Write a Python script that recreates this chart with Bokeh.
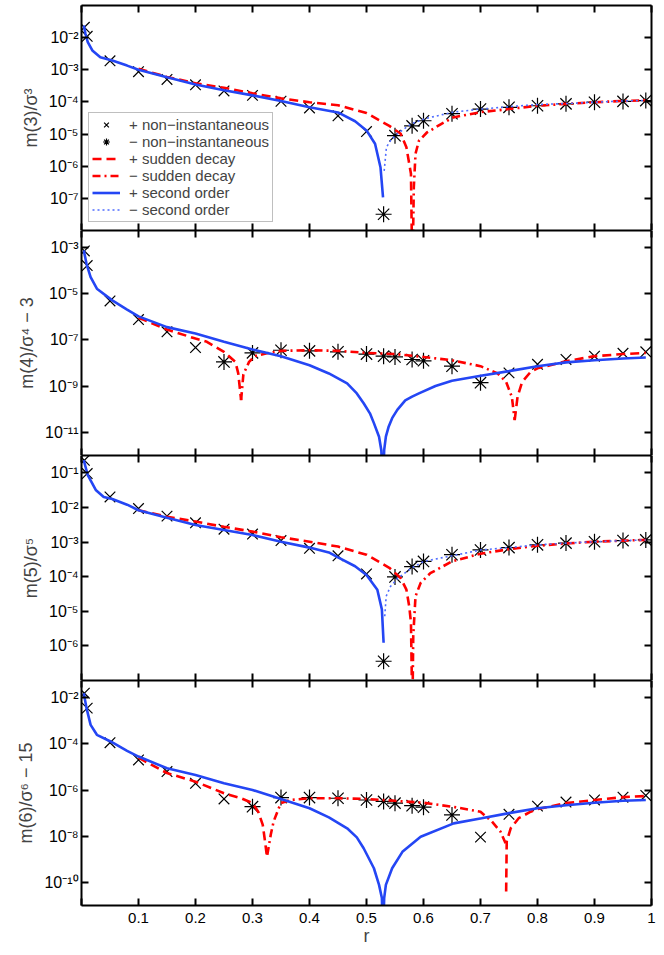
from bokeh.plotting import figure
from bokeh.models import (Range1d, FixedTicker, LinearAxis, LogAxis,
                          CustomJSTickFormatter, Legend, LegendItem)
from bokeh.layouts import column
from bokeh.embed import file_html
from bokeh.resources import INLINE

FONT = "Liberation Sans"
RED = "#ff0000"
BLUE = "#2446f4"
BLUE_DOT = "#4f6cff"

# ---------------- data ----------------
x_ticks = [0, 0.1, 0.2, 0.3, 0.4, 0.5, 0.6, 0.7, 0.8, 0.9, 1.0]

# panel 1 : m(3)/sigma^3
m3_plus_r = [0.005, 0.01, 0.05, 0.1, 0.15, 0.2, 0.25, 0.3, 0.35, 0.4, 0.45, 0.5]
m3_plus_v = [2.1e-2, 1.1e-2, 1.9e-3, 8.7e-4, 5.0e-4, 3.4e-4, 2.2e-4, 1.6e-4, 1.05e-4, 6.5e-5, 3.7e-5, 1.2e-5]
m3_minus_r = [0.53, 0.55, 0.58, 0.6, 0.65, 0.7, 0.75, 0.8, 0.85, 0.9, 0.95, 0.99]
m3_minus_v = [3.2e-8, 8.9e-6, 1.8e-5, 2.6e-5, 4.3e-5, 6.0e-5, 6.8e-5, 7.6e-5, 8.7e-5, 9.8e-5, 1.04e-4, 1.1e-4]
m3_so_plus_r = [0.004, 0.007, 0.011, 0.019, 0.033, 0.054, 0.08, 0.1, 0.15, 0.2, 0.25, 0.3, 0.35, 0.4, 0.45,
                0.48, 0.5, 0.515, 0.5246, 0.529]
m3_so_plus_v = [2.4e-2, 1.32e-2, 7.2e-3, 4.0e-3, 2.45e-3, 1.95e-3, 1.35e-3, 1.0e-3, 5.9e-4, 3.5e-4, 2.3e-4,
                1.6e-4, 1.07e-4, 6.8e-5, 4.7e-5, 2.5e-5, 1.3e-5, 5.0e-6, 9.1e-7, 1.07e-7]
m3_so_minus_r = [0.531, 0.535, 0.542, 0.554, 0.579, 0.602, 0.652, 0.7, 0.75, 0.8, 0.85, 0.9, 0.95, 0.99]
m3_so_minus_v = [7.2e-7, 3.9e-6, 6.2e-6, 1.02e-5, 2.1e-5, 3.0e-5, 4.8e-5, 6.0e-5, 7.1e-5, 8.3e-5, 8.9e-5, 9.8e-5, 1.07e-4, 1.12e-4]
m3_sd_plus_r = [0.1, 0.15, 0.2, 0.25, 0.3, 0.35, 0.4, 0.45, 0.5, 0.54, 0.56, 0.57, 0.578, 0.5805]
m3_sd_plus_v = [1.07e-3, 6.0e-4, 3.8e-4, 2.75e-4, 1.86e-4, 1.29e-4, 9.8e-5, 7.9e-5, 4.5e-5, 1.8e-5, 1.02e-5, 3.9e-6, 5.8e-7, 3e-10]
m3_sd_minus_r = [0.5805, 0.583, 0.586, 0.592, 0.606, 0.63, 0.652, 0.7, 0.75, 0.8, 0.85, 0.9, 0.95, 0.99]
m3_sd_minus_v = [3e-10, 2.2e-7, 2.45e-6, 6.2e-6, 1.12e-5, 2.0e-5, 3.3e-5, 4.8e-5, 6.0e-5, 7.6e-5, 8.7e-5, 9.8e-5, 1.07e-4, 1.12e-4]

# panel 2 : m(4)/sigma^4 - 3
m4_plus_r = [0.005, 0.01, 0.05, 0.1, 0.15, 0.2, 0.75, 0.8, 0.85, 0.9, 0.95, 0.99]
m4_plus_v = [6.8e-4, 1.6e-4, 4.7e-6, 7.4e-7, 2.2e-7, 4.6e-8, 3.7e-9, 8.7e-9, 1.4e-8, 1.95e-8, 2.6e-8, 3.0e-8]
m4_minus_r = [0.25, 0.3, 0.35, 0.4, 0.45, 0.5, 0.53, 0.55, 0.58, 0.6, 0.65, 0.7]
m4_minus_v = [1.1e-8, 2.7e-8, 3.5e-8, 3.3e-8, 3.0e-8, 2.4e-8, 1.95e-8, 1.8e-8, 1.4e-8, 1.23e-8, 7.2e-9, 1.4e-9]
m4_so_r = [0.004, 0.0088, 0.016, 0.027, 0.054, 0.08, 0.1, 0.15, 0.2, 0.25, 0.3, 0.35, 0.4, 0.434, 0.466, 0.483,
           0.495, 0.506, 0.513, 0.522, 0.526, 0.529, 0.531, 0.534, 0.539, 0.545, 0.554, 0.568, 0.58, 0.592, 0.621,
           0.65, 0.698, 0.75, 0.8, 0.85, 0.9, 0.95, 0.99]
m4_so_v = [7.2e-4, 1.9e-4, 5.1e-5, 1.6e-5, 5.0e-6, 2.0e-6, 1.02e-6, 3.5e-7, 1.86e-7, 8.1e-8, 3.8e-8, 1.95e-8,
           7.9e-9, 3.5e-9, 1.3e-9, 4.8e-10, 1.8e-10, 6.6e-11, 2.5e-11, 6.5e-12, 1.7e-12, 3e-14, 1.7e-12, 6.5e-12,
           1.8e-11, 4.1e-11, 9.3e-11, 2.4e-10, 3.5e-10, 4.8e-10, 1.0e-9, 1.7e-9, 2.7e-9, 4.4e-9, 7.2e-9, 1.05e-8,
           1.3e-8, 1.55e-8, 1.7e-8]
m4_sd_plus_a_r = [0.1, 0.15, 0.2, 0.22, 0.25, 0.27, 0.275, 0.28]
m4_sd_plus_a_v = [8.9e-7, 2.75e-7, 1.12e-7, 8.1e-8, 2.95e-8, 1.1e-8, 3.5e-9, 2.45e-10]
m4_sd_minus_r = [0.28, 0.284, 0.294, 0.304, 0.325, 0.35, 0.4, 0.45, 0.5, 0.55, 0.6, 0.65, 0.7, 0.73, 0.745, 0.755, 0.76]
m4_sd_minus_v = [2.45e-10, 3.2e-9, 1.1e-8, 1.95e-8, 2.6e-8, 3.3e-8, 3.5e-8, 3.3e-8, 2.7e-8, 2.4e-8, 1.8e-8, 1.3e-8,
                 7.2e-9, 3.5e-9, 1.5e-9, 3.4e-10, 3.4e-11]
m4_sd_plus_b_r = [0.76, 0.765, 0.773, 0.788, 0.8, 0.85, 0.9, 0.95, 0.99]
m4_sd_plus_b_v = [3.4e-11, 3.4e-10, 1.5e-9, 4.1e-9, 5.8e-9, 1.17e-8, 1.95e-8, 2.4e-8, 2.7e-8]

# panel 3 : m(5)/sigma^5
m5_plus_r = [0.005, 0.01, 0.05, 0.1, 0.15, 0.2, 0.25, 0.3, 0.35, 0.4, 0.45, 0.5]
m5_plus_v = [2.3e-1, 9.5e-2, 2.0e-2, 9.3e-3, 5.6e-3, 3.6e-3, 2.35e-3, 1.7e-3, 1.1e-3, 6.6e-4, 4.0e-4, 1.2e-4]
m5_minus_r = [0.53, 0.55, 0.58, 0.6, 0.65, 0.7, 0.75, 0.8, 0.85, 0.9, 0.95, 0.99]
m5_minus_v = [3.6e-7, 9.8e-5, 1.95e-4, 2.75e-4, 4.3e-4, 5.9e-4, 6.9e-4, 8.3e-4, 9.3e-4, 1.02e-3, 1.1e-3, 1.15e-3]
m5_so_plus_r = [0.004, 0.011, 0.025, 0.039, 0.054, 0.08, 0.1, 0.15, 0.2, 0.25, 0.3, 0.35, 0.4, 0.434, 0.45, 0.48,
                0.5, 0.519, 0.527, 0.53]
m5_so_plus_v = [2.3e-1, 8.5e-2, 3.2e-2, 2.0e-2, 1.74e-2, 1.2e-2, 8.3e-3, 5.0e-3, 3.1e-3, 2.24e-3, 1.6e-3, 1.02e-3,
                6.9e-4, 5.0e-4, 3.6e-4, 2.0e-4, 1.12e-4, 4.2e-5, 1.12e-5, 1.23e-6]
m5_so_minus_r = [0.532, 0.5345, 0.542, 0.555, 0.58, 0.6, 0.65, 0.7, 0.75, 0.8, 0.85, 0.9, 0.95, 0.99]
m5_so_minus_v = [7.2e-6, 2.7e-5, 5.2e-5, 9.1e-5, 1.8e-4, 2.75e-4, 4.0e-4, 5.9e-4, 6.9e-4, 8.3e-4, 9.3e-4, 1.02e-3, 1.1e-3, 1.15e-3]
m5_sd_plus_r = [0.1, 0.15, 0.2, 0.25, 0.3, 0.35, 0.4, 0.45, 0.5, 0.54, 0.56, 0.57, 0.575, 0.578, 0.5805]
m5_sd_plus_v = [8.3e-3, 5.4e-3, 3.9e-3, 2.75e-3, 2.0e-3, 1.38e-3, 1.02e-3, 7.4e-4, 4.3e-4, 1.8e-4, 9.1e-5, 4.2e-5,
                1.38e-5, 4.7e-6, 1e-8]
m5_sd_minus_r = [0.5805, 0.582, 0.586, 0.595, 0.612, 0.65, 0.7, 0.75, 0.8, 0.85, 0.9, 0.95, 0.99]
m5_sd_minus_v = [1e-8, 1.9e-6, 2.7e-5, 6.6e-5, 1.26e-4, 2.75e-4, 4.6e-4, 6.2e-4, 7.8e-4, 9.1e-4, 1.02e-3, 1.1e-3, 1.15e-3]

# panel 4 : m(6)/sigma^6 - 15
m6_plus_r = [0.005, 0.01, 0.05, 0.1, 0.15, 0.2, 0.25, 0.7, 0.75, 0.8, 0.85, 0.9, 0.95, 0.99]
m6_plus_v = [1.55e-2, 3.5e-3, 1.12e-4, 2.0e-5, 6.3e-6, 1.95e-6, 4.1e-7, 9.1e-9, 8.9e-8, 2.0e-7, 3.0e-7, 3.7e-7, 4.9e-7, 5.8e-7]
m6_minus_r = [0.3, 0.35, 0.4, 0.45, 0.5, 0.53, 0.55, 0.58, 0.6, 0.65]
m6_minus_v = [1.9e-7, 4.7e-7, 4.7e-7, 4.4e-7, 3.7e-7, 3.2e-7, 2.7e-7, 2.1e-7, 1.8e-7, 8.3e-8]
m6_so_r = [0.004, 0.0088, 0.016, 0.027, 0.051, 0.08, 0.1, 0.15, 0.2, 0.25, 0.3, 0.35, 0.4, 0.434, 0.466, 0.483,
           0.495, 0.513, 0.522, 0.527, 0.529, 0.531, 0.534, 0.545, 0.563, 0.595, 0.653, 0.702, 0.75, 0.8, 0.85,
           0.9, 0.95, 0.99]
m6_so_v = [1.55e-2, 3.5e-3, 6.6e-4, 2.45e-4, 1.26e-4, 4.9e-5, 2.8e-5, 8.7e-6, 4.5e-6, 1.95e-6, 1.0e-6, 4.1e-7,
           1.62e-7, 6.5e-8, 2.2e-8, 8.9e-9, 3.0e-9, 4.1e-10, 7.8e-11, 2.1e-11, 3e-13, 2.1e-11, 7.8e-11, 4.1e-10,
           2.1e-9, 9.5e-9, 3.6e-8, 6.0e-8, 1.0e-7, 1.62e-7, 2.2e-7, 2.8e-7, 3.4e-7, 3.7e-7]
m6_sd_plus_a_r = [0.1, 0.15, 0.2, 0.25, 0.28, 0.3, 0.31, 0.318, 0.322, 0.325]
m6_sd_plus_a_v = [2.5e-5, 5.4e-6, 2.3e-6, 7.2e-7, 4.4e-7, 2.7e-7, 1.15e-7, 3.1e-8, 5.9e-9, 1.55e-9]
m6_sd_minus_r = [0.326, 0.332, 0.337, 0.346, 0.35, 0.367, 0.4, 0.45, 0.5, 0.55, 0.6, 0.65, 0.7, 0.72, 0.735, 0.744]
m6_sd_minus_v = [1.55e-9, 1.15e-8, 4.3e-8, 1.62e-7, 2.7e-7, 3.7e-7, 4.4e-7, 4.4e-7, 4.1e-7, 3.4e-7, 2.8e-7, 1.9e-7,
                 1.15e-7, 4.3e-8, 1.6e-8, 5.0e-9]
m6_sd_plus_b_r = [0.745, 0.746, 0.753, 0.767, 0.788, 0.8, 0.85, 0.9, 0.95, 0.99]
m6_sd_plus_b_v = [4e-11, 5.9e-9, 2.2e-8, 6.0e-8, 1.15e-7, 1.48e-7, 2.7e-7, 3.7e-7, 4.9e-7, 5.5e-7]

# axis settings per panel
p1_ylim = (1e-8, 1e-1)
p1_yticks = [1e-7, 1e-6, 1e-5, 1e-4, 1e-3, 1e-2]
p2_ylim = (1e-12, 5.2e-3)
p2_yticks = [1e-11, 1e-9, 1e-7, 1e-5, 1e-3]
p3_ylim = (1e-7, 3.16e-1)
p3_yticks = [1e-6, 1e-5, 1e-4, 1e-3, 1e-2, 1e-1]
p4_ylim = (1e-11, 5.5e-2)
p4_yticks = [1e-10, 1e-8, 1e-6, 1e-4, 1e-2]

legend_labels = ["+ non\u2212instantaneous", "\u2212 non\u2212instantaneous", "+ sudden decay",
                 "\u2212 sudden decay", "+ second order", "\u2212 second order"]

# ---------------- helpers ----------------
LOG_FMT = CustomJSTickFormatter(code="""
const sup = {'-':'\u207b','0':'\u2070','1':'\u00b9','2':'\u00b2','3':'\u00b3','4':'\u2074',
             '5':'\u2075','6':'\u2076','7':'\u2077','8':'\u2078','9':'\u2079'};
const e = Math.round(Math.log10(tick));
return '10' + String(e).split('').map(c => sup[c]).join('');
""")
X_FMT = CustomJSTickFormatter(code="""
if (Math.abs(tick) < 1e-9) { return ''; }
return String(+tick.toFixed(1));
""")


def style_axis(ax, ticks, labels, size="15px", standoff=3):
    ax.ticker = FixedTicker(ticks=ticks, minor_ticks=[])
    ax.axis_line_width = 2
    ax.axis_line_color = "black"
    ax.major_tick_in = 7
    ax.major_tick_out = 0
    ax.major_tick_line_width = 2
    ax.major_tick_line_color = "black"
    ax.minor_tick_in = 0
    ax.minor_tick_out = 0
    ax.major_label_text_font = FONT
    ax.major_label_text_color = "black"
    if labels:
        ax.major_label_text_font_size = size
        ax.major_label_standoff = standoff
    else:
        ax.major_label_text_font_size = "0px"
        ax.major_label_standoff = 0
        ax.major_label_text_alpha = 0


def make_panel(ylim, yticks, ylabel, first=False, last=False):
    p = figure(frame_width=570, frame_height=225,
               x_range=Range1d(0, 1), y_range=Range1d(*ylim),
               y_axis_type="log", x_axis_location=None, y_axis_location=None,
               output_backend="svg", toolbar_location=None,
               min_border_left=81, min_border_right=8,
               min_border_top=5 if first else 0,
               min_border_bottom=40 if last else 0,
               background_fill_color="white", border_fill_color="white")
    p.grid.visible = False
    p.outline_line_color = None

    left = LogAxis(formatter=LOG_FMT)
    style_axis(left, yticks, True, "16px", 3)
    left.axis_label = ylabel
    left.axis_label_text_font = FONT
    left.axis_label_text_font_size = "18px"
    left.axis_label_text_font_style = "normal"
    left.axis_label_standoff = 5
    p.add_layout(left, "left")

    right = LogAxis()
    style_axis(right, yticks, False)
    p.add_layout(right, "right")

    top = LinearAxis()
    style_axis(top, x_ticks, False)
    p.add_layout(top, "above")

    bottom = LinearAxis(formatter=X_FMT)
    style_axis(bottom, x_ticks, last, "15px", 7)
    if last:
        bottom.axis_label = "r"
        bottom.axis_label_text_font = FONT
        bottom.axis_label_text_font_size = "18px"
        bottom.axis_label_text_font_style = "normal"
        bottom.axis_label_standoff = 0
    p.add_layout(bottom, "below")
    return p


def draw(p, plus, minus, lines):
    rp = p.scatter(plus[0], plus[1], marker="x", size=15, line_color="black", line_width=1.2)
    rm = p.scatter(minus[0], minus[1], marker="asterisk", size=16, line_color="black", line_width=1.2)
    out = {"plus": rp, "minus": rm}
    for key, (r, v) in lines:
        if key.startswith("sd_plus"):
            g = p.line(r, v, line_color=RED, line_width=2.6, line_dash="9 5")
        elif key == "sd_minus":
            g = p.line(r, v, line_color=RED, line_width=2.6, line_dash="8 4 2 4")
        elif key == "so_plus":
            g = p.line(r, v, line_color=BLUE, line_width=2.6)
        else:
            g = p.line(r, v, line_color=BLUE_DOT, line_width=1.6, line_dash="2 3")
        out.setdefault(key, g)
    return out


# ---------------- panels ----------------
p1 = make_panel(p1_ylim, p1_yticks, "m(3)/\u03c3\u00b3", first=True)
g1 = draw(p1, (m3_plus_r, m3_plus_v), (m3_minus_r, m3_minus_v), [
    ("sd_plus", (m3_sd_plus_r, m3_sd_plus_v)),
    ("sd_minus", (m3_sd_minus_r, m3_sd_minus_v)),
    ("so_plus", (m3_so_plus_r, m3_so_plus_v)),
    ("so_minus", (m3_so_minus_r, m3_so_minus_v)),
])

p2 = make_panel(p2_ylim, p2_yticks, "m(4)/\u03c3\u2074 \u2212 3")
draw(p2, (m4_plus_r, m4_plus_v), (m4_minus_r, m4_minus_v), [
    ("sd_plus", (m4_sd_plus_a_r, m4_sd_plus_a_v)),
    ("sd_plus_b", (m4_sd_plus_b_r, m4_sd_plus_b_v)),
    ("sd_minus", (m4_sd_minus_r, m4_sd_minus_v)),
    ("so_plus", (m4_so_r, m4_so_v)),
])

p3 = make_panel(p3_ylim, p3_yticks, "m(5)/\u03c3\u2075")
draw(p3, (m5_plus_r, m5_plus_v), (m5_minus_r, m5_minus_v), [
    ("sd_plus", (m5_sd_plus_r, m5_sd_plus_v)),
    ("sd_minus", (m5_sd_minus_r, m5_sd_minus_v)),
    ("so_plus", (m5_so_plus_r, m5_so_plus_v)),
    ("so_minus", (m5_so_minus_r, m5_so_minus_v)),
])

p4 = make_panel(p4_ylim, p4_yticks, "m(6)/\u03c3\u2076 \u2212 15", last=True)
draw(p4, (m6_plus_r, m6_plus_v), (m6_minus_r, m6_minus_v), [
    ("sd_plus", (m6_sd_plus_a_r, m6_sd_plus_a_v)),
    ("sd_plus_b", (m6_sd_plus_b_r, m6_sd_plus_b_v)),
    ("sd_minus", (m6_sd_minus_r, m6_sd_minus_v)),
    ("so_plus", (m6_so_r, m6_so_v)),
])

# legend (top panel)
keys = ["plus", "minus", "sd_plus", "sd_minus", "so_plus", "so_minus"]
items = [LegendItem(label=lab, renderers=[g1[k]]) for lab, k in zip(legend_labels, keys)]
legend = Legend(items=items, location=(7, 8), orientation="vertical",
                label_text_font=FONT, label_text_font_size="15px",
                label_height=17, glyph_height=17, glyph_width=28,
                label_standoff=9, spacing=0, padding=3, margin=0,
                border_line_color="#808080", border_line_width=1.5,
                background_fill_color="white", background_fill_alpha=1.0)
p1.add_layout(legend)

layout = column(p1, p2, p3, p4, spacing=0)
open("out.html", "w").write(file_html(layout, INLINE))
